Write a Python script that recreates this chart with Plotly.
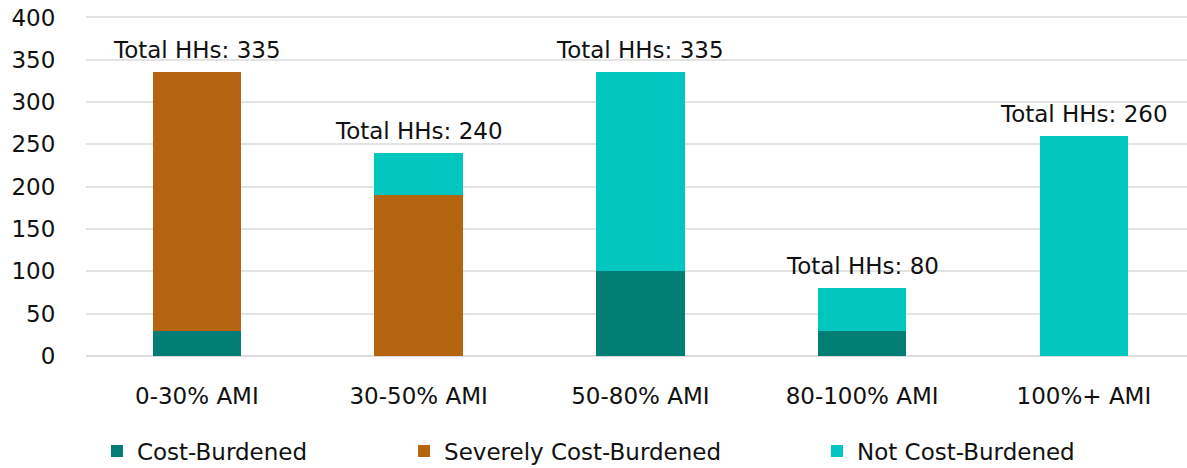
import plotly.graph_objects as go

# data
categories = ["0-30% AMI", "30-50% AMI", "50-80% AMI", "80-100% AMI", "100%+ AMI"]
cost_burdened = [30, 0, 100, 30, 0]
severely_burdened = [305, 190, 0, 0, 0]
not_burdened = [0, 50, 235, 50, 260]
totals = [335, 240, 335, 80, 260]
y_ticks = [0, 50, 100, 150, 200, 250, 300, 350, 400]

series = [
    ("Cost-Burdened", cost_burdened, "#017D74", "legend"),
    ("Severely Cost-Burdened", severely_burdened, "#B5640F", "legend2"),
    ("Not Cost-Burdened", not_burdened, "#02C7C0", "legend3"),
]

FONT = "DejaVu Sans, Open Sans, sans-serif"
TEXT = "#111111"
FS = 23

fig = go.Figure()
for name, vals, color, leg in series:
    fig.add_trace(
        go.Bar(
            x=categories,
            y=vals,
            name=name,
            marker=dict(color=color, line=dict(width=0)),
            width=0.4,
            legend=leg,
        )
    )

# "Total HHs" labels above each stack
for cat, tot in zip(categories, totals):
    fig.add_annotation(
        x=cat,
        y=tot,
        text=f"Total HHs: {tot}",
        showarrow=False,
        yanchor="bottom",
        yshift=7,
        font=dict(size=FS, color=TEXT, family=FONT),
    )

# one legend per entry so the spacing can follow the reference
legend_style = dict(
    orientation="h",
    xref="container",
    yref="paper",
    yanchor="middle",
    xanchor="left",
    y=-0.274,
    bgcolor="rgba(0,0,0,0)",
    font=dict(size=FS, color=TEXT, family=FONT),
)

fig.update_layout(
    width=1187,
    height=468,
    barmode="stack",
    paper_bgcolor="white",
    plot_bgcolor="white",
    margin=dict(l=86, r=0, t=9, b=112, autoexpand=False),
    font=dict(family=FONT, size=FS, color=TEXT),
    showlegend=True,
    legend=dict(legend_style, x=0.0817),
    legend2=dict(legend_style, x=0.3404),
    legend3=dict(legend_style, x=0.6883),
    xaxis=dict(
        range=[-0.5, 4.465],
        automargin=False,
        showgrid=False,
        showline=False,
        ticks="outside",
        ticklen=19,
        tickcolor="rgba(0,0,0,0)",
        tickfont=dict(size=FS, color=TEXT, family=FONT),
    ),
    yaxis=dict(
        range=[0, 410],
        automargin=False,
        tickvals=y_ticks,
        showgrid=True,
        gridcolor="#E3E3E3",
        gridwidth=1.5,
        zeroline=True,
        zerolinecolor="#DCDCE0",
        zerolinewidth=1.5,
        ticks="outside",
        ticklen=25,
        tickcolor="rgba(0,0,0,0)",
        tickfont=dict(size=FS, color=TEXT, family=FONT),
    ),
    bargap=0.6,
)

# the page's default 8px body margin would shift the whole figure
fig.write_html(
    "out.html",
    config={"displayModeBar": False},
    post_script="document.body.style.margin='0';",
)
